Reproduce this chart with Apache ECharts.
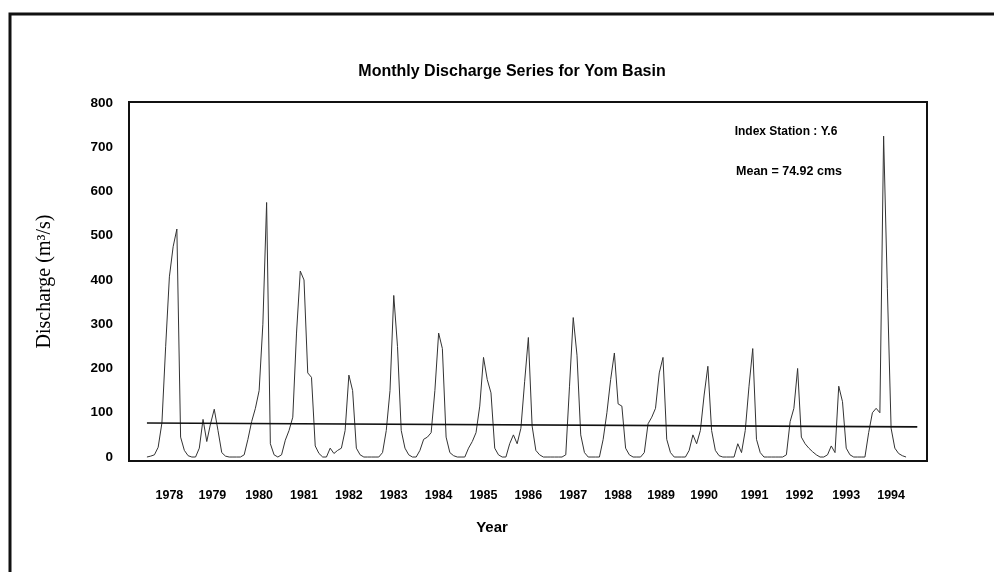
<!DOCTYPE html>
<html>
<head>
<meta charset="utf-8">
<script src="https://cdn.jsdelivr.net/npm/echarts@6/dist/echarts.min.js"></script>
<style>
    html, body { margin: 0; padding: 0; background: #fff; }
    #chartmain { width: 994px; height: 572px; }
</style>
</head>
<body>
<div id="chartmain"></div>
<script>
// year tick labels and where they sit (month index from Jan 1978)
var years = ['1978', '1979', '1980', '1981', '1982', '1983', '1984', '1985', '1986',
             '1987', '1988', '1989', '1990', '1991', '1992', '1993', '1994'];
var tickMonths = [6, 17.5, 30, 42, 54, 66, 78, 90, 102, 114, 126, 137.5, 149, 162.5, 174.5, 187, 199];
var yTicks = [0, 100, 200, 300, 400, 500, 600, 700, 800];

// monthly discharge (m3/s), one row per year
var discharge = [
    0, 2, 5, 22, 77, 249, 407, 475, 515, 45, 15, 3,          // 1978
    0, 0, 20, 85, 35, 75, 108, 60, 10, 2, 0, 0,              // 1979
    0, 0, 5, 40, 80, 110, 150, 300, 575, 30, 5, 0,           // 1980
    5, 38, 60, 90, 280, 420, 400, 190, 180, 25, 8, 0,        // 1981
    0, 20, 8, 15, 20, 60, 185, 150, 20, 5, 0, 0,             // 1982
    0, 0, 0, 10, 60, 150, 365, 250, 60, 20, 5, 0,            // 1983
    0, 15, 40, 45, 55, 150, 280, 245, 45, 10, 3, 0,          // 1984
    0, 0, 20, 35, 55, 115, 225, 175, 145, 20, 5, 0,          // 1985
    0, 30, 50, 30, 65, 170, 270, 70, 15, 5, 0, 0,            // 1986
    0, 0, 0, 0, 5, 160, 315, 230, 50, 10, 0, 0,              // 1987
    0, 0, 40, 100, 175, 235, 120, 115, 20, 5, 0, 0,          // 1988
    0, 10, 75, 90, 110, 190, 225, 40, 10, 0, 0, 0,           // 1989
    0, 15, 50, 30, 60, 140, 205, 60, 15, 3, 0, 0,            // 1990
    0, 0, 30, 10, 60, 160, 245, 40, 10, 0, 0, 0,             // 1991
    0, 0, 0, 5, 80, 110, 200, 45, 30, 20, 12, 5,             // 1992
    0, 0, 5, 25, 10, 160, 125, 20, 5, 0, 0, 0,               // 1993
    0, 55, 100, 110, 100, 725, 380, 65, 20, 8, 3, 0          // 1994
];

// the straight "mean" line as drawn (ends in month index, values)
var meanLineMonths = [0, 206];
var meanLineValues = [77, 68];

var seriesData = [];
for (var i = 0; i < discharge.length; i++) {
    seriesData.push([i, discharge[i]]);
}
var meanData = [];
for (var j = 0; j < meanLineMonths.length; j++) {
    meanData.push([meanLineMonths[j], meanLineValues[j]]);
}

var boldFont = "'Liberation Sans', Arial, sans-serif";

var option = {
    animation: false,
    backgroundColor: '#fff',
    title: {
        text: 'Monthly Discharge Series for Yom Basin',
        left: 507,
        top: 59,
        textAlign: 'center',
        textStyle: {
            fontFamily: boldFont,
            fontWeight: 'bold',
            fontSize: 16,
            color: '#000'
        }
    },
    grid: {
        left: 129,
        right: 67,
        top: 102,
        bottom: 111,
        show: true,
        borderColor: '#111',
        borderWidth: 2,
        backgroundColor: 'transparent'
    },
    xAxis: {
        type: 'value',
        min: -4.8,
        max: 208.6,
        axisLine: { show: false },
        axisTick: { show: false },
        splitLine: { show: false },
        axisLabel: {
            customValues: tickMonths,
            margin: 28,
            fontFamily: boldFont,
            fontWeight: 'bold',
            fontSize: 12.5,
            color: '#000',
            formatter: function (v) {
                var k = tickMonths.indexOf(v);
                return k >= 0 ? years[k] : '';
            }
        }
    },
    yAxis: {
        type: 'value',
        min: -9,
        max: 802,
        name: 'Discharge (m³/s)',
        nameLocation: 'middle',
        nameGap: 74,
        nameRotate: 90,
        nameTextStyle: {
            fontFamily: "'Liberation Serif', 'Times New Roman', serif",
            fontSize: 20,
            color: '#000'
        },
        axisLine: { show: false },
        axisTick: { show: false },
        splitLine: { show: false },
        axisLabel: {
            customValues: yTicks,
            margin: 16,
            fontFamily: boldFont,
            fontWeight: 'bold',
            fontSize: 13.5,
            color: '#000'
        }
    },
    series: [
        {
            name: 'Discharge',
            type: 'line',
            symbol: 'none',
            data: seriesData,
            lineStyle: { color: '#333', width: 1 }
        },
        {
            name: 'Mean',
            type: 'line',
            symbol: 'none',
            data: meanData,
            lineStyle: { color: '#111', width: 1.6 }
        }
    ],
    graphic: [
        {
            type: 'rect',
            shape: { x: 10, y: 14, width: 1000, height: 600 },
            style: { fill: 'none', stroke: '#111', lineWidth: 3 },
            silent: true
        },
        {
            type: 'text',
            x: 786, y: 132,
            style: {
                text: 'Index Station : Y.6',
                font: 'bold 12px ' + boldFont,
                fill: '#000',
                textAlign: 'center',
                textVerticalAlign: 'middle'
            }
        },
        {
            type: 'text',
            x: 789, y: 172,
            style: {
                text: 'Mean = 74.92 cms',
                font: 'bold 12.5px ' + boldFont,
                fill: '#000',
                textAlign: 'center',
                textVerticalAlign: 'middle'
            }
        },
        {
            type: 'text',
            x: 492, y: 528,
            style: {
                text: 'Year',
                font: 'bold 15px ' + boldFont,
                fill: '#000',
                textAlign: 'center',
                textVerticalAlign: 'middle'
            }
        }
    ]
};

var myChart = echarts.init(document.getElementById('chartmain'));
myChart.setOption(option);
</script>
</body>
</html>
